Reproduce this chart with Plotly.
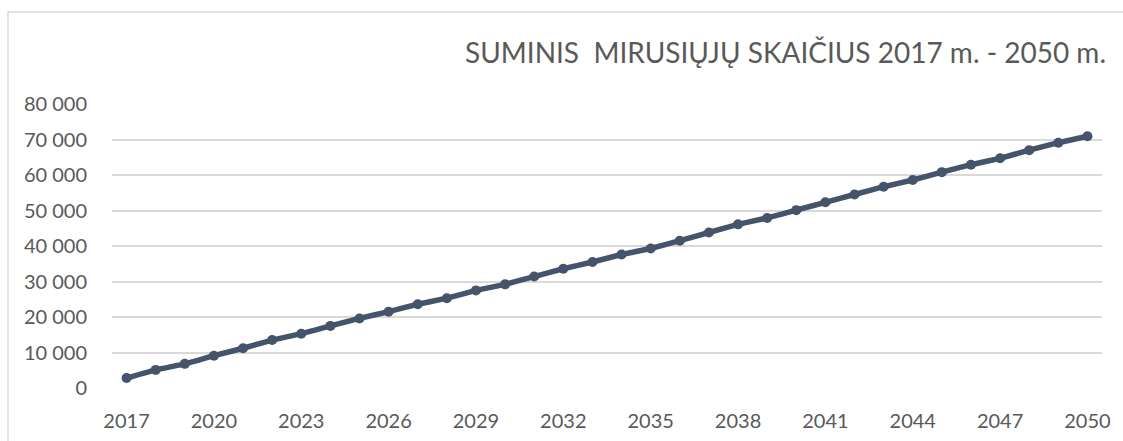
import plotly.graph_objects as go

# metai ir suminis mirusiųjų skaičius (nuskaityta nuo grafiko)
years = list(range(2017, 2051))
deaths = [2800, 5100, 6800, 9100, 11200, 13500, 15300, 17500, 19600, 21500,
          23600, 25300, 27500, 29200, 31400, 33600, 35500, 37600, 39300, 41500,
          43800, 46100, 47900, 50100, 52300, 54500, 56700, 58600, 60800, 62900,
          64700, 67000, 69100, 70900]
x_ticks = [2017, 2020, 2023, 2026, 2029, 2032, 2035, 2038, 2041, 2044, 2047, 2050]
y_ticks = [0, 10000, 20000, 30000, 40000, 50000, 60000, 70000, 80000]

title = "SUMINIS  MIRUSIŲJŲ SKAIČIUS 2017 m. - 2050 m."

text_color = '#595959'
grid_color = '#d9d9d9'
line_color = '#44546A'

fig = go.Figure()

fig.add_trace(go.Scatter(
    x=[str(y) for y in years], y=deaths,
    mode='lines+markers',
    line=dict(color=line_color, width=5.5, shape='spline', smoothing=0.3),
    marker=dict(color=line_color, size=10),
    showlegend=False,
))

fig.update_layout(
    width=1123, height=441,
    paper_bgcolor='white', plot_bgcolor='white',
    separators=', ',
    font=dict(family='Lato, Open Sans, sans-serif', size=20, color=text_color),
    margin=dict(l=112, r=21, t=104, b=53),
    title=dict(
        text=title,
        font=dict(size=28, color=text_color),
        xref='container', yref='container',
        x=1106 / 1123, xanchor='right',
        y=1 - 53 / 441, yanchor='middle',
    ),
    xaxis=dict(
        type='category',
        range=[-0.5, len(years) - 0.5],
        tickmode='array',
        tickvals=[str(y) for y in x_ticks],
        ticktext=[str(y) for y in x_ticks],
        showgrid=False, zeroline=False, showline=False,
        ticks='outside', ticklen=15, tickcolor='rgba(0,0,0,0)',
        automargin=False,
    ),
    yaxis=dict(
        range=[0, 80000],
        tickmode='array', tickvals=y_ticks,
        tickformat=',d',
        showgrid=True, gridcolor=grid_color, gridwidth=1.5,
        zeroline=False, showline=False,
        ticks='outside', ticklen=20, tickcolor='rgba(0,0,0,0)',
        automargin=False,
    ),
    shapes=[dict(
        type='rect', xref='paper', yref='paper',
        x0=(8 - 112) / 990, x1=1.2,
        y0=-0.5, y1=(388 - 12) / 284,
        line=dict(color=grid_color, width=1.5),
        layer='below',
    )],
)

# the page body has a default 8px margin; remove it so the figure sits at 0,0
fig.write_html("out.html", config={'displayModeBar': False},
               post_script="document.body.style.margin='0';")
